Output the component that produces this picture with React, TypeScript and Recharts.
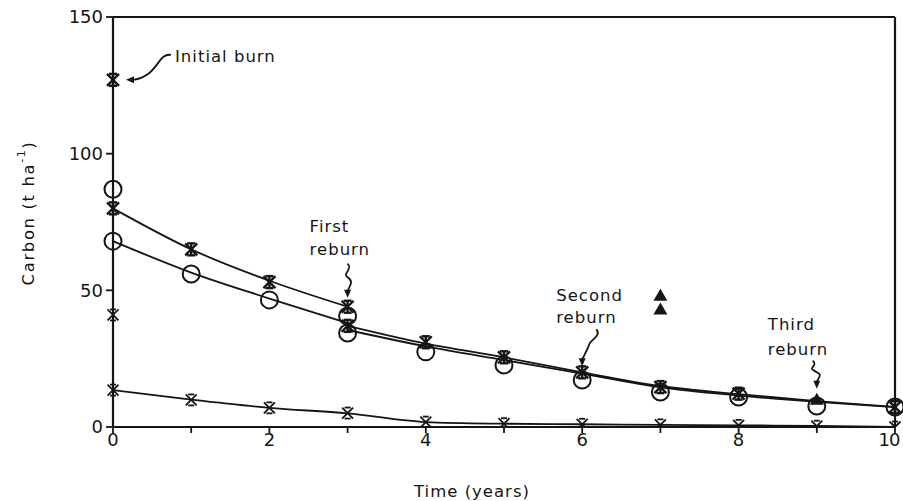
import React from 'react';
import {
  ComposedChart,
  Line,
  Scatter,
  XAxis,
  YAxis,
  ReferenceLine,
  ReferenceDot,
} from 'recharts';

// tick values
const xTicks = [0, 1, 2, 3, 4, 5, 6, 7, 8, 9, 10];
const yTicks = [0, 50, 100, 150];

// fitted curves
const upperStarLine = [
  { x: 0, y: 80 }, { x: 1, y: 65 }, { x: 2, y: 53.5 }, { x: 3, y: 44 },
];
const upperCircleLine = [
  { x: 0, y: 68 }, { x: 1, y: 56.5 }, { x: 2, y: 47 }, { x: 3, y: 38 },
];
const afterStarLine = [
  { x: 3, y: 37 }, { x: 4, y: 30.5 }, { x: 5, y: 25.5 }, { x: 6, y: 20 },
  { x: 7, y: 15 }, { x: 8, y: 12 }, { x: 9, y: 9.5 }, { x: 10, y: 7.3 },
];
const afterCircleLine = [
  { x: 3, y: 35.5 }, { x: 4, y: 29.5 }, { x: 5, y: 24.5 }, { x: 6, y: 19.5 },
  { x: 7, y: 14.5 }, { x: 8, y: 11.5 }, { x: 9, y: 9.2 }, { x: 10, y: 7.3 },
];
const lowerLine = [
  { x: 0, y: 13.5 }, { x: 1, y: 10 }, { x: 2, y: 7 }, { x: 3, y: 5 },
  { x: 4, y: 1.8 }, { x: 5, y: 1.2 }, { x: 6, y: 1 }, { x: 7, y: 0.8 },
  { x: 8, y: 0.6 }, { x: 9, y: 0.4 }, { x: 10, y: 0 },
];

// measured points
const starPoints = [
  { x: 0, y: 127 }, { x: 0, y: 80 }, { x: 1, y: 65 }, { x: 2, y: 53 },
  { x: 3, y: 44 }, { x: 3, y: 37 }, { x: 4, y: 31 }, { x: 5, y: 25.5 },
  { x: 6, y: 20 }, { x: 7, y: 14.6 }, { x: 8, y: 12.2 }, { x: 10, y: 7.3 },
];
const circlePoints = [
  { x: 0, y: 87 }, { x: 0, y: 68 }, { x: 1, y: 56 }, { x: 2, y: 46.5 },
  { x: 3, y: 40.6 }, { x: 3, y: 34.4 }, { x: 4, y: 27.5 }, { x: 5, y: 22.7 },
  { x: 6, y: 17.2 }, { x: 7, y: 12.8 }, { x: 8, y: 11 }, { x: 9, y: 7.7 },
  { x: 10, y: 7.3 },
];
const crossPoints = [
  { x: 0, y: 41 }, { x: 0, y: 13.5 }, { x: 1, y: 9.9 }, { x: 2, y: 7 },
  { x: 3, y: 5.1 }, { x: 4, y: 1.8 }, { x: 5, y: 1.2 }, { x: 6, y: 1 },
  { x: 7, y: 0.8 }, { x: 8, y: 0.6 }, { x: 9, y: 0.3 }, { x: 10, y: 0 },
];
const trianglePoints = [
  { x: 7, y: 48 }, { x: 7, y: 43 }, { x: 9, y: 10 },
];

// annotations (arrow tip at data point)
const notes = [
  { x: 0, y: 127, lines: ['Initial  burn'], kind: 'initial' },
  { x: 3, y: 44, lines: ['First', 'reburn'], kind: 'first' },
  { x: 6, y: 20, lines: ['Second', 'reburn'], kind: 'second' },
  { x: 9, y: 10, lines: ['Third', 'reburn'], kind: 'third' },
];

const INK = '#151515';
const FONT = '"DejaVu Sans", sans-serif';
const textStyle = { fontFamily: FONT, fontSize: 16.5, fill: INK, letterSpacing: 1 };

const StarShape = (p: any) => {
  const { cx, cy } = p;
  const r = 6;
  return (
    <g stroke={INK} strokeWidth={2.4} fill="none">
      <line x1={cx - r} y1={cy - r} x2={cx + r} y2={cy + r} />
      <line x1={cx - r} y1={cy + r} x2={cx + r} y2={cy - r} />
      <line x1={cx} y1={cy - r} x2={cx} y2={cy + r} />
      <line x1={cx - 4} y1={cy - r} x2={cx + 4} y2={cy - r} />
      <line x1={cx - 4} y1={cy + r} x2={cx + 4} y2={cy + r} />
    </g>
  );
};

const CircleShape = (p: any) => (
  <circle cx={p.cx} cy={p.cy} r={8.5} stroke={INK} strokeWidth={2} fill="none" />
);

const CrossShape = (p: any) => {
  const { cx, cy } = p;
  const r = 5.5;
  return (
    <g stroke={INK} strokeWidth={1.8} fill="none">
      <line x1={cx - r} y1={cy - r} x2={cx + r} y2={cy + r} />
      <line x1={cx - r} y1={cy + r} x2={cx + r} y2={cy - r} />
      <line x1={cx - 3} y1={cy - r} x2={cx + 3} y2={cy - r} />
      <line x1={cx - 3} y1={cy + r} x2={cx + 3} y2={cy + r} />
    </g>
  );
};

const TriangleShape = (p: any) => {
  const { cx, cy } = p;
  return <path d={`M${cx} ${cy - 7}L${cx + 7} ${cy + 5}L${cx - 7} ${cy + 5}Z`} fill={INK} />;
};

const head = (x: number, y: number, dx: number, dy: number) => {
  // small filled arrowhead pointing along (dx, dy)
  const len = Math.hypot(dx, dy);
  const ux = dx / len;
  const uy = dy / len;
  const bx = x - ux * 8;
  const by = y - uy * 8;
  return (
    <path
      d={`M${x} ${y}L${bx - uy * 3.5} ${by + ux * 3.5}L${bx + uy * 3.5} ${by - ux * 3.5}Z`}
      fill={INK}
    />
  );
};

const NoteShape = (note: any) => (p: any) => {
  const { cx, cy } = p;
  if (note.kind === 'initial') {
    return (
      <g>
        <text x={cx + 62} y={cy - 23} dominantBaseline="central" style={textStyle}>
          {note.lines[0]}
        </text>
        <path
          d={`M${cx + 58} ${cy - 25}C${cx + 44} ${cy - 27} ${cx + 46} ${cy - 4} ${cx + 20} ${cy}`}
          stroke={INK} strokeWidth={1.8} fill="none"
        />
        {head(cx + 13, cy, -1, 0)}
      </g>
    );
  }
  const cfg: Record<string, any> = {
    first: { tx: -38, ty: [-80, -57], sx: 0, sy: -43, ey: -9 },
    second: { tx: -26, ty: [-77, -55], sx: 14, sy: -43, ey: -6 },
    third: { tx: -49, ty: [-75, -50], sx: -4, sy: -39, ey: -11 },
  };
  const c = cfg[note.kind];
  const x0 = cx + c.sx;
  const y0 = cy + c.sy;
  const y1 = cy + c.ey - 7;
  const mid = (y0 + y1) / 2;
  return (
    <g>
      {note.lines.map((s: string, i: number) => (
        <text key={i} x={cx + c.tx} y={cy + c.ty[i]} dominantBaseline="central" style={textStyle}>
          {s}
        </text>
      ))}
      <path
        d={`M${x0} ${y0}C${x0 + 6} ${y0 + 6} ${x0 - 6} ${mid - 4} ${(x0 + cx) / 2} ${mid}S${cx + 3} ${y1 - 6} ${cx} ${y1}`}
        stroke={INK} strokeWidth={1.8} fill="none"
      />
      {head(cx, cy + c.ey, 0, 1)}
    </g>
  );
};

const YLabel = (p: any) => {
  const vb = p.viewBox || { y: 17, height: 410 };
  const y = vb.y + vb.height / 2 - 9;
  return (
    <text
      x={28}
      y={y}
      transform={`rotate(-90 28 ${y})`}
      textAnchor="middle"
      dominantBaseline="central"
      style={{ ...textStyle, letterSpacing: 1.6 }}
    >
      Carbon  (t ha
      <tspan dy={-7} fontSize={11}>-1</tspan>
      <tspan dy={7}>)</tspan>
    </text>
  );
};

const XTick = (p: any) => {
  const { x, y, payload } = p;
  const v = payload.value;
  if (v % 2 !== 0) return null;
  const shift = v === 10 ? -6 : 0;
  return (
    <text
      x={x + shift}
      y={y + 10}
      textAnchor="middle"
      style={{ fontFamily: FONT, fontSize: 18, fill: INK, letterSpacing: v === 10 ? -1 : 0 }}
    >
      {v}
    </text>
  );
};

export default function App() {
  const tickStyle = { fontFamily: FONT, fontSize: 18, fill: INK };
  const lineProps = {
    type: 'monotone' as const,
    dataKey: 'y',
    stroke: INK,
    strokeWidth: 1.8,
    dot: false,
    activeDot: false,
    isAnimationActive: false,
  };
  return (
    <div style={{ position: 'absolute', left: 0, top: 0, width: 903, height: 501, background: '#fff' }}>
      <ComposedChart width={903} height={501} margin={{ top: 17, right: 8, bottom: 0, left: 0 }}>
        <XAxis
          type="number"
          dataKey="x"
          domain={[0, 10]}
          ticks={xTicks}
          interval={0}
          axisLine={{ stroke: INK, strokeWidth: 2.2 }}
          tickLine={{ stroke: INK, strokeWidth: 1.8 }}
          tickSize={6}
          tickMargin={3}
          tick={<XTick />}
          height={74}
          label={{
            value: 'Time (years)',
            position: 'insideBottom',
            offset: 4,
            dx: -32,
            style: textStyle,
          }}
        />
        <YAxis
          type="number"
          dataKey="y"
          domain={[0, 150]}
          ticks={yTicks}
          interval={0}
          allowDataOverflow
          axisLine={{ stroke: INK, strokeWidth: 2.2 }}
          tickLine={{ stroke: INK, strokeWidth: 1.8 }}
          tickSize={7}
          tickMargin={3}
          tick={tickStyle}
          width={113}
          label={<YLabel />}
        />
        <ReferenceLine y={150} stroke={INK} strokeWidth={2.2} />
        <ReferenceLine x={10} stroke={INK} strokeWidth={2.2} />

        <Line data={upperStarLine} {...lineProps} />
        <Line data={upperCircleLine} {...lineProps} />
        <Line data={afterStarLine} {...lineProps} />
        <Line data={afterCircleLine} {...lineProps} />
        <Line data={lowerLine} {...lineProps} />

        <Scatter data={circlePoints} shape={CircleShape} isAnimationActive={false} />
        <Scatter data={starPoints} shape={StarShape} isAnimationActive={false} />
        <Scatter data={crossPoints} shape={CrossShape} isAnimationActive={false} />
        <Scatter data={trianglePoints} shape={TriangleShape} isAnimationActive={false} />

        {notes.map((n, i) => (
          <ReferenceDot key={i} x={n.x} y={n.y} r={0} shape={NoteShape(n)} />
        ))}
      </ComposedChart>
    </div>
  );
}
